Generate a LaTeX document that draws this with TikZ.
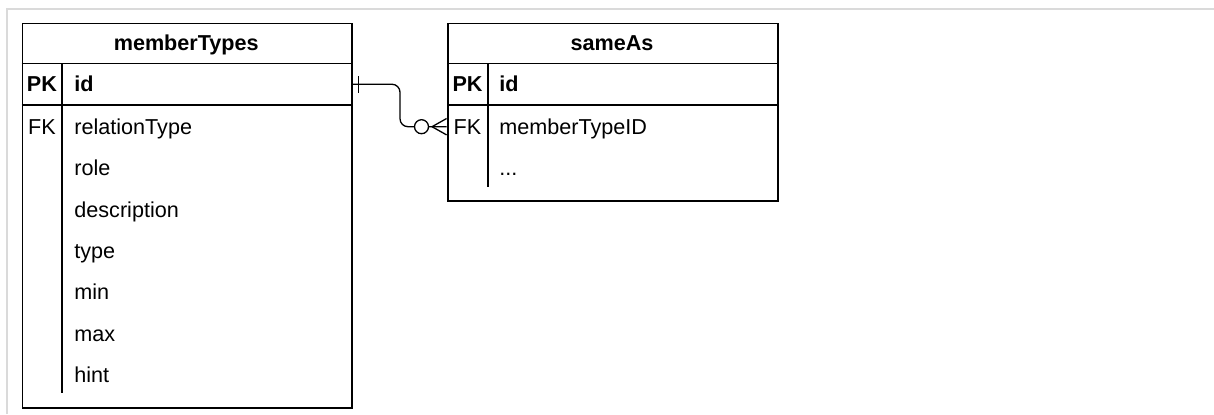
\documentclass[tikz,border=0pt]{standalone}
\usepackage{fontspec}
\setmainfont{Liberation Sans}
\begin{document}
\begin{tikzpicture}[x=0.5pt,y=-0.5pt,
  tablebox/.style={draw=black,line width=0.75pt,fill=white,anchor=north west,inner sep=0pt},
  rowbox/.style={draw=none,inner sep=0pt,minimum height=20.7pt},
  sep/.style={line width=0.75pt},
  txt/.style={font=\fontsize{10.8}{12}\selectfont,inner sep=0pt,text height=0.72em,text depth=0pt},
  lbl/.style={txt,anchor=west},
  key/.style={txt,anchor=center},
  ttl/.style={txt,anchor=center,font=\fontsize{10.8}{12}\selectfont\bfseries},
  conn/.style={line width=0.65pt,draw=black},
  frame/.style={draw={rgb,255:red,218;green,218;blue,218},line width=0.7pt}
]
\useasboundingbox (0,0) rectangle (1214,414);
% light frame
\draw[frame] (7,414) -- (7,9) -- (1214,9);

% memberTypes table
\node[tablebox,minimum width=164.75pt,minimum height=192.25pt] (mt) at (21.5,22.5) {};
\draw[sep] (21.5,63.5) -- (351,63.5);
\draw[sep] (21.5,105) -- (351,105);
\draw[sep] (62,63.5) -- (62,393);
\node[ttl] (mtTitle) at (186.25,43) {memberTypes};
\node[rowbox,minimum width=164.75pt] (mtIdRow) at (186.25,84.25) {};
\node[key,font=\fontsize{10.8}{12}\selectfont\bfseries] (mtPK) at (42,84.5) {PK};
\node[lbl,font=\fontsize{10.8}{12}\selectfont\bfseries] (mtId) at (74,84.5) {id};
\node[key] (mtFK) at (42,127) {FK};
\node[lbl] (mtF1) at (74,127) {relationType};
\node[lbl] (mtF2) at (74,168.4) {role};
\node[lbl] (mtF3) at (74,209.8) {description};
\node[lbl] (mtF4) at (74,251.2) {type};
\node[lbl] (mtF5) at (74,292.6) {min};
\node[lbl] (mtF6) at (74,334) {max};
\node[lbl] (mtF7) at (74,375.4) {hint};

% sameAs table
\node[tablebox,minimum width=165pt,minimum height=88.75pt] (sa) at (447,22.5) {};
\draw[sep] (447,63.5) -- (777,63.5);
\draw[sep] (447,105) -- (777,105);
\draw[sep] (488,63.5) -- (488,187);
\node[ttl] (saTitle) at (612,43) {sameAs};
\node[key,font=\fontsize{10.8}{12}\selectfont\bfseries] (saPK) at (467.5,84.5) {PK};
\node[lbl,font=\fontsize{10.8}{12}\selectfont\bfseries] (saId) at (499,84.5) {id};
\node[rowbox,minimum width=165pt] (saFkRow) at (612,126.7) {};
\node[key] (saFK) at (467.5,127) {FK};
\node[lbl] (saF1) at (499,127) {memberTypeID};
\node[lbl] (saF2) at (499,168.4) {...};

% connector: one (mandatory) to zero-or-many
\coordinate (circ) at (421.5,126.7);
\coordinate (foot) at (432,126.7);
\draw[conn,rounded corners=4pt] (mtIdRow.east) -- (400,84.25) -- (400,126.7) -- (saFkRow.west);
\draw[conn] (358.5,76) -- (358.5,92.5);
\draw[conn,fill=white] (circ) circle[radius=3.5pt];
\draw[conn] (foot) -- (saFkRow.west |- 0,118.5);
\draw[conn] (foot) -- (saFkRow.west |- 0,134.9);
\end{tikzpicture}
\end{document}
